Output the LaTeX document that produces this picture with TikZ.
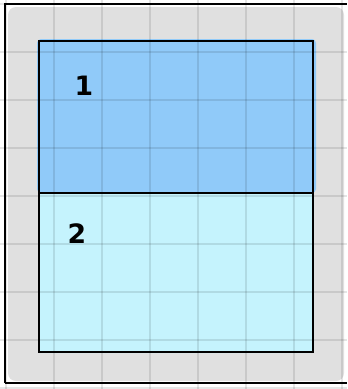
\documentclass[tikz,border=0pt]{standalone}
\usepackage{fontspec}
\setmainfont{DejaVu Sans}
\definecolor{paneGray}{HTML}{E0E0E0}
\definecolor{topBlue}{HTML}{90CAF9}
\definecolor{botBlue}{HTML}{C5F3FD}
\tikzset{
  gridline/.style={draw=black, draw opacity=0.10, line width=1.4pt},
  frameline/.style={draw=black, line width=1.6pt},
  label/.style={font=\fontsize{20}{20}\selectfont\bfseries, inner sep=0pt}
}
\begin{document}
\begin{tikzpicture}[x=0.75pt,y=-0.75pt]
\useasboundingbox (0,0) rectangle (347,389);
\fill[white] (0,0) rectangle (347,389);
% gray pane
\fill[paneGray, rounded corners=6pt] (8,7) rectangle (344,381);
% blue areas
\fill[topBlue, rounded corners=3pt] (37,39) rectangle (316,193);
\fill[botBlue, rounded corners=2pt] (38,193) rectangle (314,353);
% grid
\foreach \x in {6,54,102,150,198,246,294,342}
  \draw[gridline] (\x,0) -- (\x,389);
\foreach \y in {4,52,100,148,196,244,292,340,388}
  \draw[gridline] (0,\y) -- (347,\y);
% frames
\draw[frameline] (5,383) -- (5,4) -- (347,4);
\draw[frameline] (5,383) -- (347,383);
\draw[frameline] (39,41) rectangle (313,352);
\draw[frameline] (38,193) -- (314,193);
% labels
\node[label] (one) at (84,86) {1};
\node[label] (two) at (77,234) {2};
\end{tikzpicture}
\end{document}
